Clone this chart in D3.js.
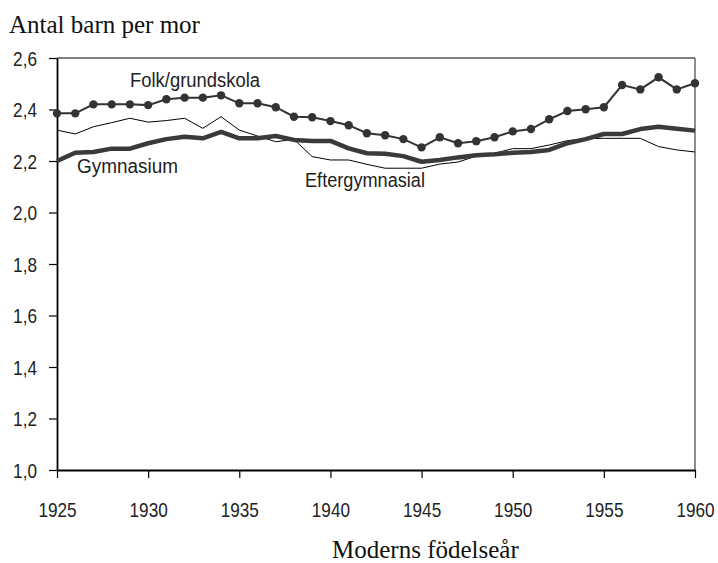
<!DOCTYPE html>
<html>
<head>
<meta charset="utf-8">
<script src="https://cdn.jsdelivr.net/npm/d3@7"></script>
<style>
  body { margin: 0; background: #fff; }
  svg { display: block; }
</style>
</head>
<body>
<div id="chart"></div>
<script>
/**
 * DATA
 * */
const years = d3.range(1925, 1961);

// Folk/grundskola (line with dots)
const folk = [
  2.385, 2.385, 2.420, 2.420, 2.420, 2.417, 2.440, 2.446, 2.446, 2.455,
  2.424, 2.424, 2.409, 2.372, 2.370, 2.355, 2.339, 2.308, 2.300, 2.285,
  2.253, 2.292, 2.269, 2.277, 2.292, 2.315, 2.324, 2.362, 2.394, 2.401,
  2.409, 2.495, 2.478, 2.525, 2.478, 2.502
];

// Gymnasium (thick line)
const gymnasium = [
  2.200, 2.232, 2.235, 2.248, 2.248, 2.269, 2.285, 2.294, 2.288, 2.313,
  2.288, 2.288, 2.297, 2.282, 2.278, 2.278, 2.249, 2.230, 2.228, 2.219,
  2.197, 2.204, 2.214, 2.222, 2.226, 2.232, 2.235, 2.243, 2.269, 2.285,
  2.305, 2.305, 2.324, 2.333, 2.325, 2.318
];

// Eftergymnasial (thin line)
const efter = [
  2.320, 2.305, 2.333, 2.349, 2.366, 2.351, 2.357, 2.366, 2.327, 2.372,
  2.320, 2.297, 2.275, 2.284, 2.217, 2.204, 2.204, 2.187, 2.172, 2.172,
  2.172, 2.188, 2.196, 2.219, 2.230, 2.248, 2.248, 2.262, 2.279, 2.287,
  2.288, 2.288, 2.288, 2.256, 2.243, 2.235
];

const xTicks = [1925, 1930, 1935, 1940, 1945, 1950, 1955, 1960];
const yTicks = [1.0, 1.2, 1.4, 1.6, 1.8, 2.0, 2.2, 2.4, 2.6];

/**
 * CONSTANTS
 * */
const width = 718,
  height = 563,
  margin = { top: 58, bottom: 93, left: 57, right: 23 };

const sansFont = "'Liberation Sans Narrow', 'Arial Narrow', 'Liberation Sans', sans-serif";
const serifFont = "'Liberation Serif', 'Times New Roman', serif";
const squeeze = 0.86; // fake a narrow face

const svg = d3.select("#chart")
  .append("svg")
  .attr("width", width)
  .attr("height", height);

const x = d3.scaleLinear()
  .domain([1925, 1960])
  .range([margin.left, width - margin.right]);

const y = d3.scaleLinear()
  .domain([1.0, 2.6])
  .range([height - margin.bottom, margin.top]);

const fmt = d => d.toFixed(1).replace(".", ",");

// top + right frame
svg.append("line")
  .attr("x1", x(1925)).attr("x2", x(1960))
  .attr("y1", y(2.6)).attr("y2", y(2.6))
  .attr("stroke", "#000").attr("stroke-width", 1.2);
svg.append("line")
  .attr("x1", x(1960)).attr("x2", x(1960))
  .attr("y1", y(2.6)).attr("y2", y(1.0))
  .attr("stroke", "#444").attr("stroke-width", 1.2);

// axes
const yAxis = svg.append("g")
  .attr("transform", `translate(${margin.left},0)`)
  .call(d3.axisLeft(y).tickValues(yTicks).tickFormat(fmt).tickSize(8).tickSizeOuter(0));

const xAxis = svg.append("g")
  .attr("transform", `translate(0,${height - margin.bottom})`)
  .call(d3.axisBottom(x).tickValues(xTicks).tickFormat(d3.format("d")).tickSize(8).tickSizeOuter(0));

[yAxis, xAxis].forEach(g => {
  g.select(".domain").attr("stroke", "#000").attr("stroke-width", 1.8);
  g.selectAll(".tick line").attr("stroke", "#000").attr("stroke-width", 1.2);
  g.selectAll(".tick text")
    .attr("fill", "#222")
    .attr("font-family", sansFont)
    .attr("font-size", 20)
    .attr("transform", `scale(${squeeze},1)`);
});
yAxis.selectAll(".tick text").attr("x", -20 / squeeze).attr("dy", "0.35em");
xAxis.selectAll(".tick text").attr("y", 47).attr("dy", 0);

// lines
const line = d3.line()
  .x((d, i) => x(years[i]))
  .y(d => y(d));

svg.append("path")
  .datum(efter)
  .attr("fill", "none")
  .attr("stroke", "#000")
  .attr("stroke-width", 1)
  .attr("d", line);

svg.append("path")
  .datum(gymnasium)
  .attr("fill", "none")
  .attr("stroke", "#3a3a3a")
  .attr("stroke-width", 4.5)
  .attr("stroke-linejoin", "round")
  .attr("d", line);

svg.append("path")
  .datum(folk)
  .attr("fill", "none")
  .attr("stroke", "#333")
  .attr("stroke-width", 2)
  .attr("d", line);

svg.selectAll("circle.dot")
  .data(folk)
  .join("circle")
  .attr("class", "dot")
  .attr("cx", (d, i) => x(years[i]))
  .attr("cy", d => y(d))
  .attr("r", 4.2)
  .attr("fill", "#333");

// series labels
const labels = [
  { text: "Folk/grundskola", x: 130, y: 87, w: 130 },
  { text: "Gymnasium", x: 77, y: 173, w: 101 },
  { text: "Eftergymnasial", x: 305, y: 187, w: 120 }
];
svg.selectAll("text.series")
  .data(labels)
  .join("text")
  .attr("class", "series")
  .attr("x", d => d.x)
  .attr("y", d => d.y)
  .attr("font-family", sansFont)
  .attr("font-size", 20)
  .attr("fill", "#222")
  .attr("textLength", d => d.w)
  .attr("lengthAdjust", "spacingAndGlyphs")
  .text(d => d.text);

// titles
svg.append("text")
  .attr("x", 9)
  .attr("y", 33)
  .attr("font-family", serifFont)
  .attr("font-size", 25)
  .attr("fill", "#111")
  .text("Antal barn per mor");

svg.append("text")
  .attr("x", 332)
  .attr("y", 558)
  .attr("font-family", serifFont)
  .attr("font-size", 25)
  .attr("fill", "#111")
  .text("Moderns födelseår");
</script>
</body>
</html>
